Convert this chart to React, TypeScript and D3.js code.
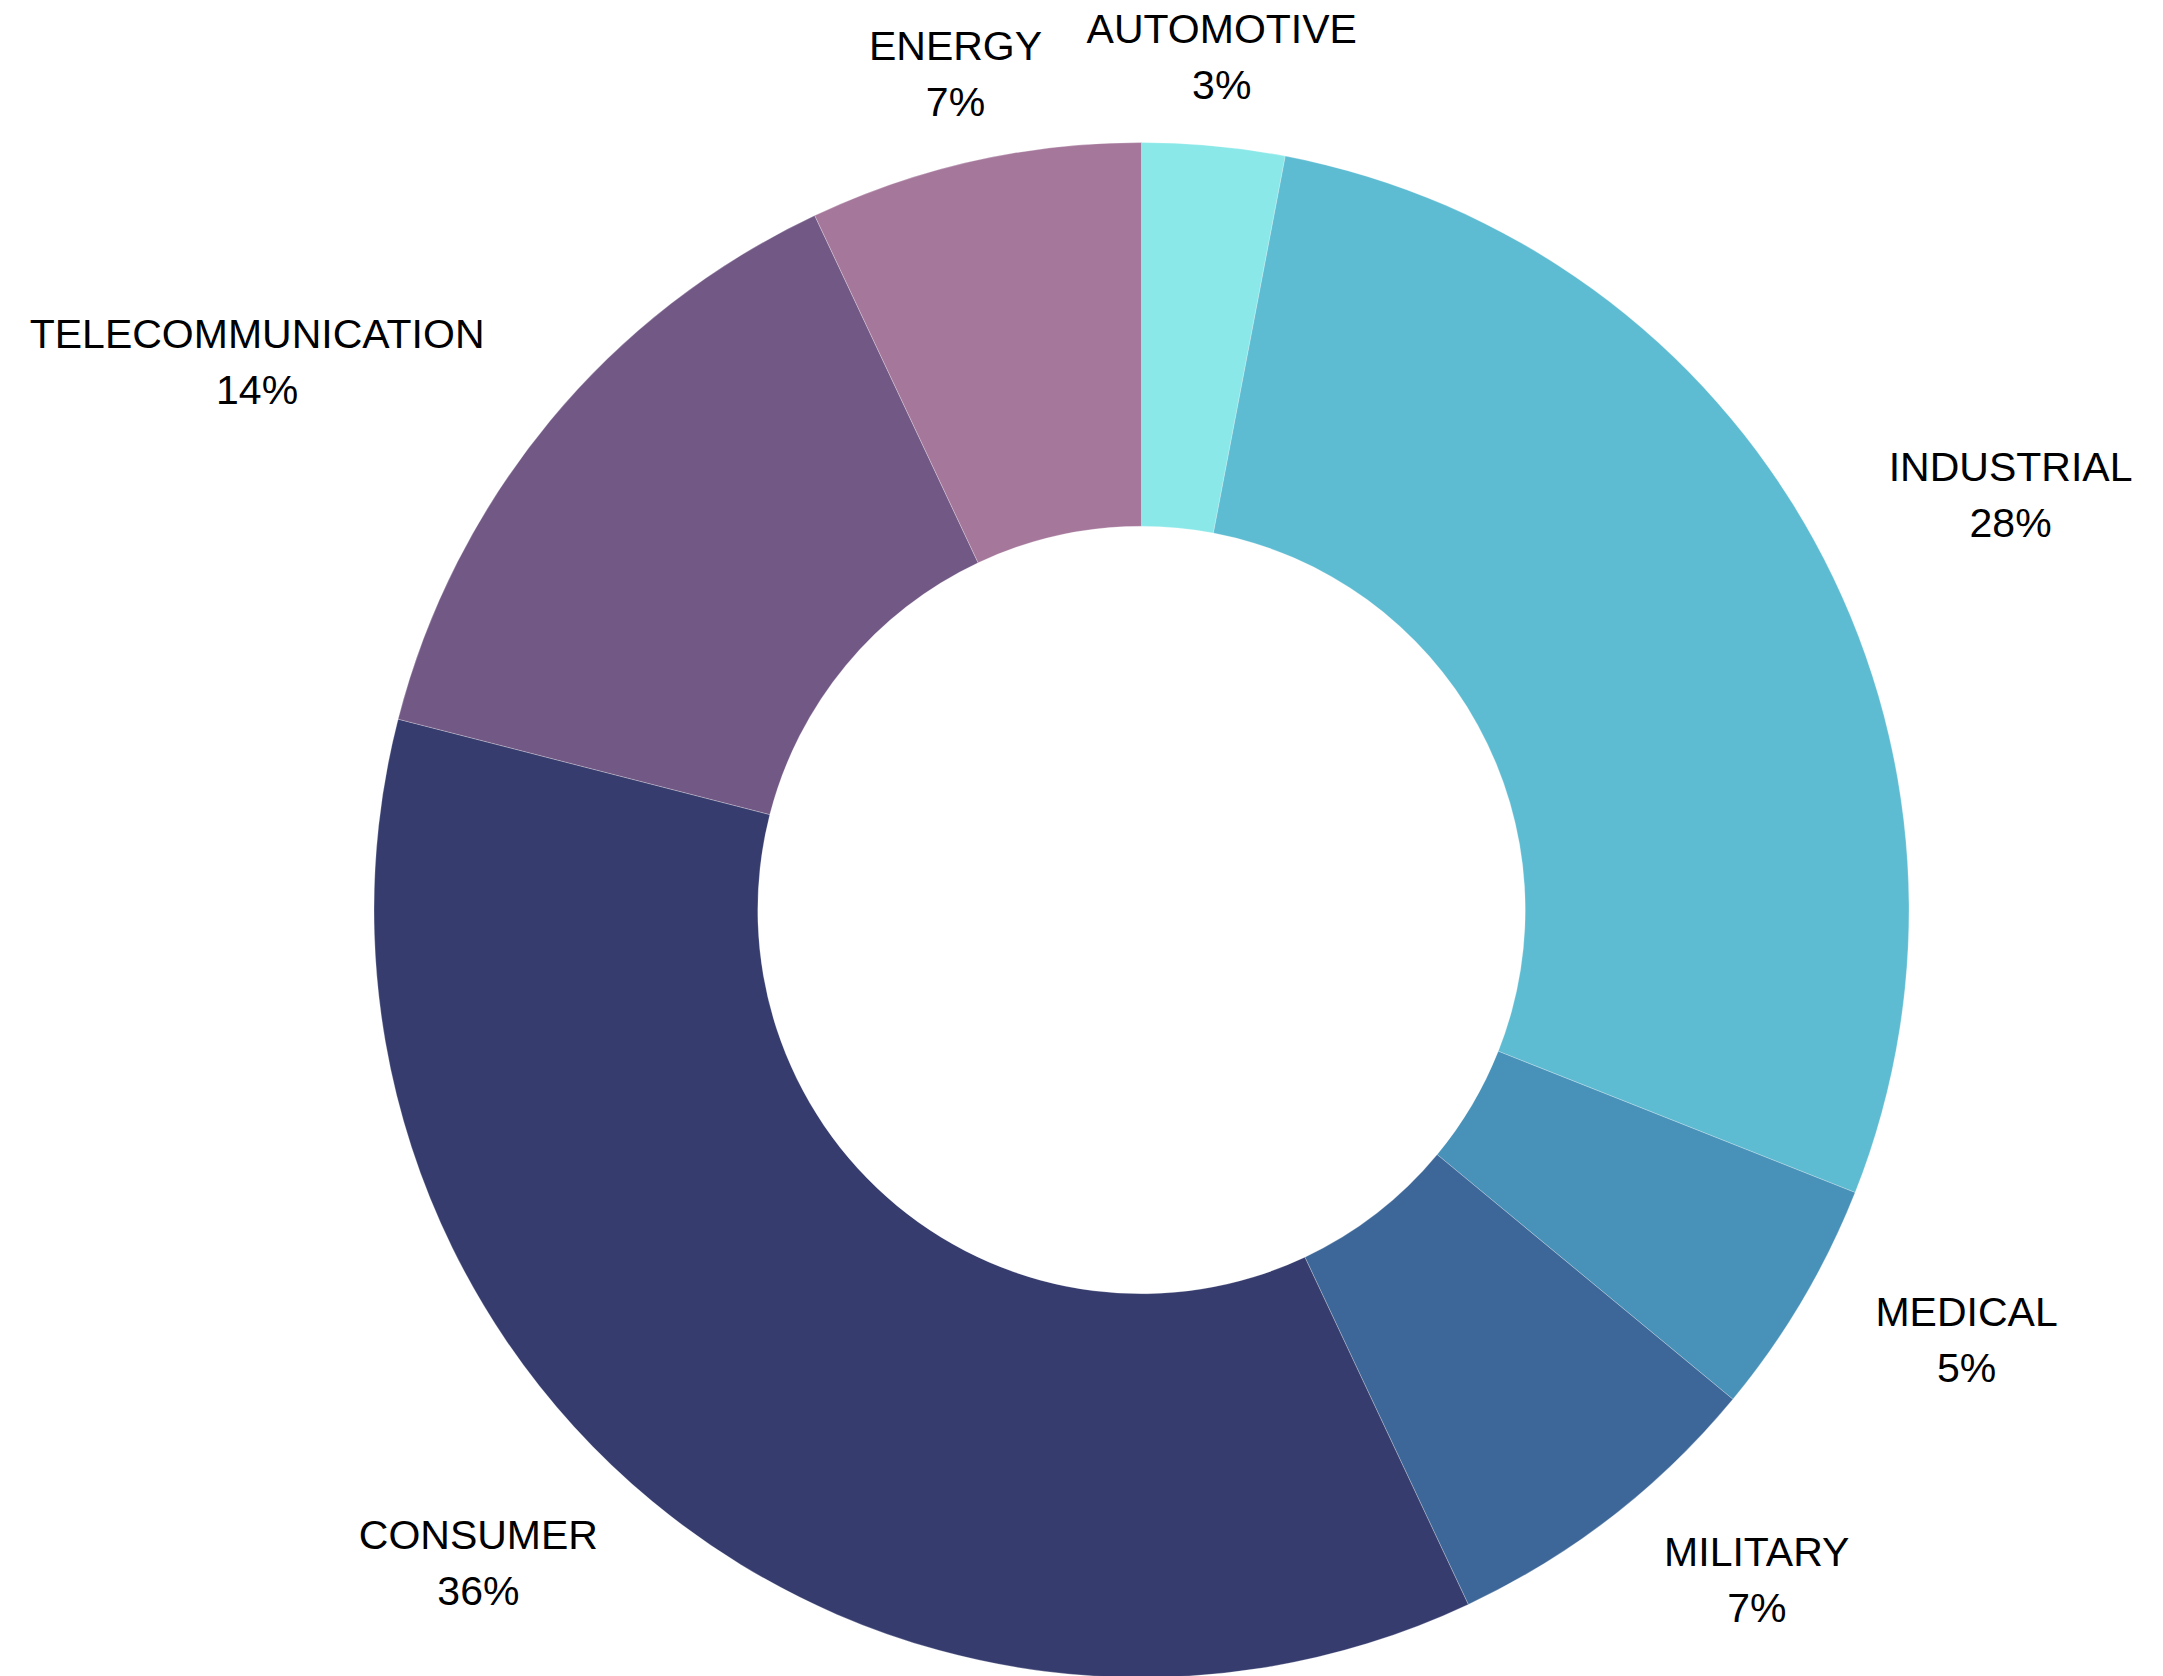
import React from "react";
import * as d3 from "d3";

const categories = ["AUTOMOTIVE", "INDUSTRIAL", "MEDICAL", "MILITARY", "CONSUMER", "TELECOMMUNICATION", "ENERGY"];
const shares = [3, 28, 5, 7, 36, 14, 7];
const palette = ["#8ae8e8", "#5ebcd2", "#4892b9", "#3d6798", "#363d6e", "#725885", "#a5779b"];

const W = 2163;
const H = 1676;
const CX = 1141.5;
const CY = 910;
const R = 767.5;
const R_IN = 383.75;
const LABEL_R = R * 1.111;
const FONT = 41;
const LINE = 56;
const CAP = 29.5;

type Datum = { name: string; value: number; color: string };

export default function App() {
  const data: Datum[] = categories.map((c, i) => ({ name: c, value: shares[i], color: palette[i] }));
  const total = d3.sum(data, (d) => d.value);
  const pie = d3
    .pie<Datum>()
    .sort(null)
    .value((d) => d.value)
    .startAngle(0)
    .endAngle(2 * Math.PI);
  const arcs = pie(data);
  const arc = d3.arc<d3.PieArcDatum<Datum>>().innerRadius(R_IN).outerRadius(R);

  return (
    <svg
      width={W}
      height={H}
      style={{ position: "absolute", left: 0, top: 0, background: "#fff" }}
      fontFamily="'Liberation Sans', Arial, sans-serif"
    >
      <g transform={`translate(${CX},${CY})`}>
        {arcs.map((a, i) => (
          <path
            key={i}
            d={arc(a) || ""}
            fill={a.data.color}
            stroke="#ffffff"
            strokeOpacity={0.5}
            strokeWidth={0.5}
          />
        ))}
        {arcs.map((a, i) => {
          const mid = (a.startAngle + a.endAngle) / 2;
          const s = Math.sin(mid);
          const x = LABEL_R * s;
          const y = -LABEL_R * Math.cos(mid);
          const pct = `${Math.round((a.data.value / total) * 100)}%`;
          const anchor = Math.abs(s) < 0.3 ? "middle" : s > 0 ? "start" : "end";
          return <LabelBlock key={`l${i}`} x={x} yCenter={y} anchor={anchor} lines={[a.data.name, pct]} />;
        })}
      </g>
    </svg>
  );
}

function LabelBlock({
  x,
  yCenter,
  anchor,
  lines,
}: {
  x: number;
  yCenter: number;
  anchor: string;
  lines: string[];
}) {
  const ref = React.useRef<SVGGElement>(null);
  const [widths, setWidths] = React.useState<number[] | null>(null);
  React.useLayoutEffect(() => {
    if (!ref.current) return;
    const texts = Array.from(ref.current.querySelectorAll("text"));
    setWidths(texts.map((t) => (t as SVGTextElement).getComputedTextLength()));
  }, [lines.join("|")]);
  const blockW = widths ? Math.max(...widths) : 0;
  let cx = x;
  if (anchor === "start") cx = x + blockW / 2;
  else if (anchor === "end") cx = x - blockW / 2;
  const b1 = yCenter - ((LINE + CAP) / 2 - CAP) - 5;
  return (
    <g ref={ref} opacity={widths ? 1 : 0}>
      {lines.map((t, j) => (
        <text key={j} x={cx} y={b1 + j * LINE} textAnchor="middle" fontSize={FONT} fill="#000">
          {t}
        </text>
      ))}
    </g>
  );
}
